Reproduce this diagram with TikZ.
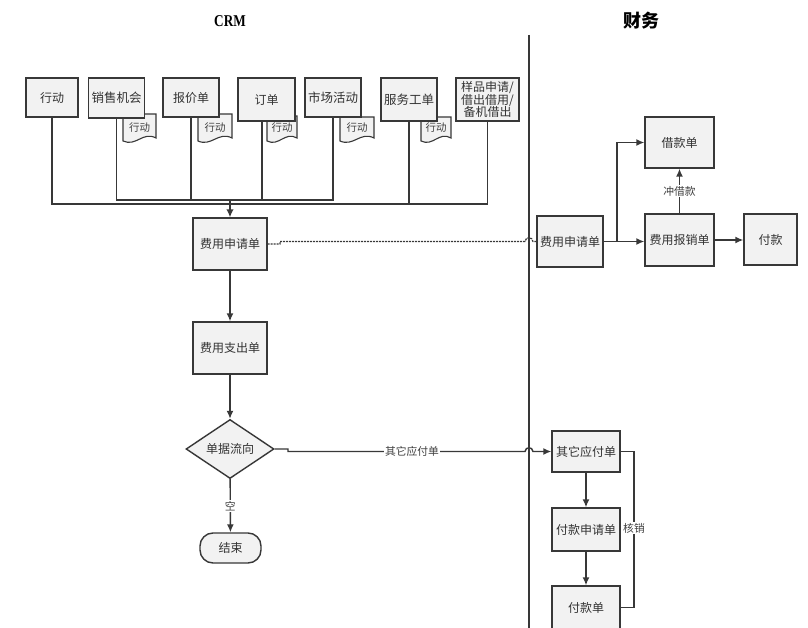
\documentclass[tikz,border=0pt]{standalone}
\usepackage{fontspec}
\setmainfont{Noto Sans CJK SC}
\newfontfamily\titlefont{Liberation Serif}
\usetikzlibrary{arrows.meta,shapes.geometric,calc}
\definecolor{boxfill}{HTML}{F2F2F2}
\definecolor{edge}{HTML}{383838}
\newcommand\docshape[5]{%
  \path[docs] (#2,#3) -- (#4,#3) -- (#4,{#5-4})
    .. controls ({#2+0.6*(#4-#2)},{#5-11}) and ({#2+0.4*(#4-#2)},{#5+5}) .. (#2,{#5-1}) -- cycle;
  \node[doctext] (#1) at ({(#2+#4)/2},127.5) {行动};}
\begin{document}
\begin{tikzpicture}[x=1pt,y=-1pt,
  box/.style={draw=edge, line width=1.4pt, fill=boxfill, inner sep=1pt, align=center,
    font=\fontsize{12}{13}\selectfont, text=black!80},
  ln/.style={draw=edge, line width=1.4pt},
  arr/.style={ln, -{Latex[length=8pt,width=7pt]}},
  lbl/.style={fill=white, inner sep=1pt, font=\fontsize{10.8}{12}\selectfont, text=black!75},
  docs/.style={draw=edge, line width=1.1pt, fill=boxfill},
  doctext/.style={font=\fontsize{10.5}{11}\selectfont, text=black!75, inner sep=0pt}]
\useasboundingbox[fill=white] (0,0) rectangle (808,628);

% titles
\node[font=\titlefont\bfseries\fontsize{16.5}{17}\selectfont, text=black] (t1) at (230,21) {\scalebox{0.8}[1]{CRM}};
\node[font=\bfseries\fontsize{18}{18}\selectfont, text=black] (t2) at (641,21) {财务};

% divider
\coordinate (dv1) at (529,35);
\coordinate (dv2) at (529,630);
\draw[draw=edge, line width=1.4pt] (dv1) -- (dv2);

% document tags
\docshape{d2}{123}{114}{156}{142}
\docshape{d3}{198}{114}{232}{142}
\docshape{d4}{267}{116}{297}{142}
\docshape{d5}{340}{117}{374}{142}
\docshape{d6}{421}{117}{451}{142}

% top row
\node[box, minimum width=52pt, minimum height=39pt] (a1) at (52,97.5) {行动};
\node[box, minimum width=56pt, minimum height=40pt, font=\fontsize{12.5}{13}\selectfont] (a2) at (116.5,98) {销售机会};
\node[box, minimum width=56pt, minimum height=39pt] (a3) at (191,97.5) {报价单};
\node[box, minimum width=57pt, minimum height=43pt] (a4) at (266.5,99.5) {订单};
\node[box, minimum width=56pt, minimum height=39pt, font=\fontsize{12.5}{13}\selectfont] (a5) at (333,97.5) {市场活动};
\node[box, minimum width=56pt, minimum height=43pt, font=\fontsize{12.5}{13}\selectfont] (a6) at (409,99.5) {服务工单};
\node[box, minimum width=63pt, minimum height=43pt, font=\fontsize{12}{12.5}\selectfont] (a7) at (487.5,99.5) {样品申请/\\借出借用/\\备机借出};

% buses
\coordinate (busU) at (230,200);
\coordinate (busL) at (230,204);
\draw[ln] (a2.south) |- (a5.south |- busU) -- (a5.south);
\draw[ln] (a3.south) -- (a3.south |- busU);
\draw[ln] ([xshift=-4.5pt]a4.south) -- ([xshift=-4.5pt]a4.south |- busU);
\draw[ln] (a1.south) |- (a7.south |- busL) -- (a7.south);
\draw[ln] (a6.south) -- (a6.south |- busL);

% left column
\node[box, minimum width=74pt, minimum height=52pt] (f1) at (230,244) {费用申请单};
\node[box, minimum width=74pt, minimum height=52pt] (f2) at (230,348) {费用支出单};
\node[box, shape=diamond, minimum width=88pt, minimum height=58pt, inner sep=0pt] (dm) at (230,449) {单据流向};
\node[box, rounded corners=13pt, minimum width=61pt, minimum height=30pt] (end) at (230.5,548) {结束};

\draw[ln, line width=2pt, -{Latex[length=8pt,width=7.5pt]}] (busU) -- (f1.north);
\draw[arr] (f1) -- (f2);
\draw[arr] (f2) -- (dm);
\draw[arr] (dm) -- node[lbl] {空} (end);

% right upper
\node[box, minimum width=66pt, minimum height=51pt] (g1) at (570,241.5) {费用申请单};
\node[box, minimum width=69pt, minimum height=51pt] (g2) at (679.5,142.5) {借款单};
\node[box, minimum width=69pt, minimum height=52pt] (g3) at (679.5,240) {费用报销单};
\node[box, minimum width=53pt, minimum height=51pt] (g4) at (770.5,239.5) {付款};

\draw[draw=edge, line width=1.3pt, dash pattern=on 2pt off 1pt]
  (f1.east) -- (280,244) -- (280,241.5) -- (525,241.5)
  .. controls (525.5,236.5) and (532.5,236.5) .. (533,241.5) -- (g1.west);

\coordinate (br) at (617,241.5);
\draw[arr] (g1.east) -- (g3.west |- g1.east);
\draw[arr] (br) |- (g2.west);
\draw[arr] (g3) -- node[lbl] {冲借款} (g2);
\draw[arr] (g3.east) -- (g4.west |- g3.east);

% right lower
\node[box, minimum width=68pt, minimum height=41pt] (h1) at (586,451.5) {其它应付单};
\node[box, minimum width=68pt, minimum height=43pt] (h2) at (586,529.5) {付款申请单};
\node[box, minimum width=68pt, minimum height=43pt] (h3) at (586,607.5) {付款单};

\draw[arr] (dm.east) -- (288,449) -- (288,451.5) -- (525,451.5)
  .. controls (525.5,446.5) and (532.5,446.5) .. (533,451.5) -- (h1.west);
\node[lbl] (lq) at (412,451.5) {其它应付单};

\draw[arr] (h1) -- (h2);
\draw[arr] (h2) -- (h3);
\draw[ln] (h1.east) -- (634,451.5) -- (634,607.5) -- (h3.east);
\node[lbl] (hx) at (634,528) {核销};
\end{tikzpicture}
\end{document}
